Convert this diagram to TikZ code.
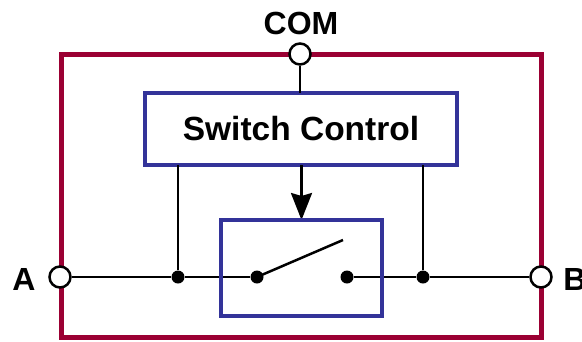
\documentclass[tikz,border=0pt]{standalone}
\usepackage{fontspec}
\setmainfont{Liberation Sans}
\usetikzlibrary{arrows.meta}
\definecolor{framered}{RGB}{155,0,51}
\definecolor{ctrlblue}{RGB}{51,51,153}
\tikzset{
  frameline/.style={draw=framered, line width=5pt},
  bluebox/.style={draw=ctrlblue, line width=4.5pt, rectangle, inner sep=0pt, outer sep=0pt},
  wire/.style={draw=black, line width=2.5pt},
  terminal/.style={circle, draw=black, fill=white, line width=2.5pt, minimum size=21pt, inner sep=0pt},
  junction/.style={circle, fill=black, minimum size=13pt, inner sep=0pt},
  lbl/.style={font=\bfseries\fontsize{32}{38}\selectfont, inner sep=0pt},
}
\begin{document}
\begin{tikzpicture}[x=1pt,y=-1pt]
\useasboundingbox (0,0) rectangle (582,341);
% outer frame
\draw[frameline] (61,54) rectangle (541,337);
% control box and switch box
\node[bluebox, fill=white, minimum width=312pt, minimum height=72pt,
      font=\bfseries\fontsize{33.5}{40}\selectfont] (sc) at (301,129) {Switch Control};
\node[bluebox, minimum width=161pt, minimum height=96pt] (sw) at (301.5,268) {};
% terminals
\node[terminal] (com) at (300,54) {};
\node[terminal] (a) at (60,277) {};
\node[terminal] (b) at (541,277) {};
% junctions and contacts
\node[junction] (j1) at (178,277) {};
\node[junction] (j2) at (423,277) {};
\node[junction] (s1) at (257,277) {};
\node[junction] (s2) at (347,277) {};
\coordinate (lev) at (343,240);
% wires
\draw[wire] (com) -- (com |- sc.north);
\draw[wire] (a) -- (j1) -- (s1);
\draw[wire] (s2) -- (j2) -- (b);
\draw[wire] (j1) -- (j1 |- sc.south);
\draw[wire] (j2) -- (j2 |- sc.south);
\draw[wire] (s1.center) -- (lev);
\draw[wire, -{Stealth[length=27pt, width=21pt, inset=3pt]}] (sc.south -| sw.north) -- (sw.north);
% redraw switch box border on top of wires
\draw[ctrlblue, line width=4.5pt] (sw.south west) rectangle (sw.north east);
% labels
\node[lbl] (comlbl) at (301,23) {COM};
\node[lbl] (albl) at (24,279) {A};
\node[lbl] (blbl) at (575,279) {B};
\end{tikzpicture}
\end{document}
